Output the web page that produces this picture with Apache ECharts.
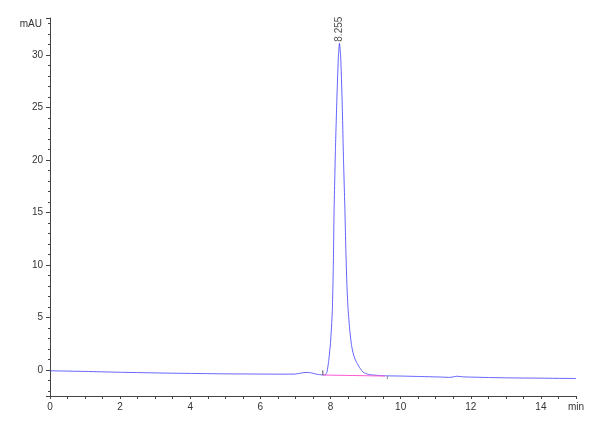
<!DOCTYPE html>
<html lang="en">
<head>
  <meta charset="UTF-8">
  <title>Chromatogram</title>
  <style>
    html, body { margin: 0; padding: 0; background: #fff; }
    #main { width: 600px; height: 440px; }
  </style>
</head>
<body>
  <div id="main"></div>
  <script src="https://cdn.jsdelivr.net/npm/echarts@6/dist/echarts.min.js"></script>
  <script>
    // retention time (min) and signal (mAU)
    var timeMin = [0, 0.5, 1, 1.5, 2, 2.5, 3, 3.5, 4, 4.5, 5, 5.5, 6, 6.5, 7, 7.15, 7.3, 7.45, 7.6, 7.7,
      7.8, 7.85, 7.9, 7.95, 8.0, 8.05, 8.08, 8.1, 8.14, 8.18, 8.22, 8.255, 8.29, 8.33, 8.37, 8.41, 8.44, 8.47,
      8.5, 8.55, 8.6, 8.65, 8.7, 8.76, 8.85, 8.92, 9.0, 9.1, 9.2, 9.4, 9.6, 10, 10.5, 11, 11.2, 11.4, 11.6, 11.8,
      12, 12.5, 13, 13.5, 14, 14.5, 15];
    var signal = [-0.1, -0.13, -0.16, -0.2, -0.24, -0.27, -0.3, -0.33, -0.35, -0.37, -0.39, -0.4, -0.41, -0.42, -0.41, -0.32, -0.25, -0.3, -0.42, -0.47,
      -0.5, -0.48, -0.2, 0.9, 2.6, 5.5, 10, 15, 21, 25.7, 29.5, 31.1, 29.8, 25.7, 20, 15.2, 11, 7.8,
      5.8, 3.7, 2.3, 1.5, 1.0, 0.6, 0.1, -0.2, -0.35, -0.45, -0.5, -0.55, -0.58, -0.6, -0.64, -0.68, -0.7, -0.73, -0.62, -0.68,
      -0.7, -0.74, -0.77, -0.79, -0.8, -0.82, -0.83];

    // integration baseline and its start / end marks
    var baseTime = [7.78, 9.55];
    var baseValue = [-0.5, -0.6];
    var startMark = [[7.78, -0.5], [7.78, -0.05]];
    var endMark = [[9.62, -0.6], [9.62, -0.9]];

    var peakTime = 8.255;
    var peakHeight = 31.1;

    var fontName = "'Liberation Sans Narrow', 'Liberation Sans', Arial, sans-serif";

    var traceData = timeMin.map(function (t, i) { return [t, signal[i]]; });
    var baseData = baseTime.map(function (t, i) { return [t, baseValue[i]]; });

    var myChart = echarts.init(document.getElementById('main'));

    myChart.setOption({
      animation: false,
      grid: { left: 50, right: 24, top: 18, bottom: 44 },
      xAxis: {
        type: 'value',
        min: 0,
        max: 15,
        interval: 0.5,
        splitLine: { show: false },
        axisLine: { onZero: false, lineStyle: { color: '#444', width: 1 } },
        axisTick: { length: 3, lineStyle: { color: '#444' } },
        axisLabel: {
          interval: 0,
          margin: 6,
          color: '#333',
          fontSize: 10,
          fontFamily: fontName,
          formatter: function (v) {
            if (v === 15) return 'min';
            if (v % 2 === 0) return String(v);
            return '';
          }
        }
      },
      yAxis: {
        type: 'value',
        min: -2.5,
        max: 33.5,
        splitNumber: 7,
        name: 'mAU',
        nameLocation: 'end',
        nameGap: -6,
        nameTextStyle: {
          align: 'right',
          verticalAlign: 'middle',
          padding: [0, 8, 0, 0],
          color: '#333',
          fontSize: 10,
          fontFamily: fontName
        },
        splitLine: { show: false },
        axisLine: { show: true, onZero: false, lineStyle: { color: '#444', width: 1 } },
        axisTick: { length: 4, lineStyle: { color: '#444' } },
        minorTick: { show: true, splitNumber: 5, length: 2, lineStyle: { color: '#444' } },
        axisLabel: {
          showMinLabel: false,
          showMaxLabel: false,
          margin: 7,
          color: '#333',
          fontSize: 10,
          fontFamily: fontName
        }
      },
      series: [
        {
          type: 'line',
          data: traceData,
          showSymbol: false,
          smooth: 0.15,
          lineStyle: { color: '#3c3cff', width: 1, opacity: 0.8 }
        },
        {
          type: 'line',
          data: baseData,
          showSymbol: false,
          lineStyle: { color: '#ff5ad2', width: 1 }
        },
        {
          type: 'line',
          data: startMark,
          showSymbol: false,
          lineStyle: { color: '#555', width: 1 }
        },
        {
          type: 'line',
          data: endMark,
          showSymbol: false,
          lineStyle: { color: '#888', width: 1 }
        },
        {
          type: 'scatter',
          data: [[peakTime, peakHeight]],
          symbolSize: 1,
          itemStyle: { color: 'rgba(0,0,0,0)' },
          label: {
            show: true,
            formatter: String(peakTime),
            position: 'top',
            distance: 1,
            rotate: 90,
            align: 'left',
            verticalAlign: 'middle',
            color: '#222',
            fontSize: 10,
            fontFamily: "'Liberation Sans', Arial, sans-serif"
          }
        }
      ]
    });
  </script>
</body>
</html>
